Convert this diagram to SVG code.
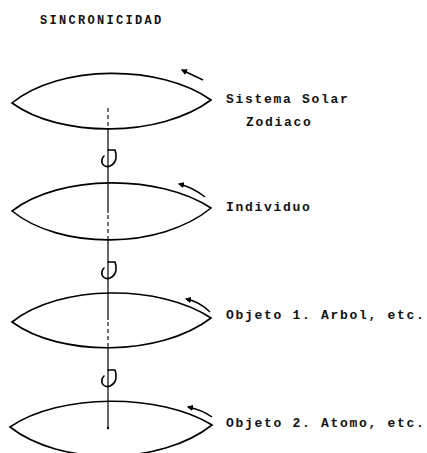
<svg xmlns="http://www.w3.org/2000/svg" width="427" height="453" viewBox="0 0 427 453">
<style>
.lens{fill:none;stroke:#000;stroke-width:1.6}
.ax{fill:none;stroke:#000;stroke-width:1.2}
.dash{fill:none;stroke:#000;stroke-width:1.1;stroke-dasharray:4 3}
.rot{fill:none;stroke:#000;stroke-width:1.4}
.curl{fill:none;stroke:#000;stroke-width:1.6;stroke-linecap:round}
text{font-family:"Liberation Mono","DejaVu Sans Mono",monospace;font-weight:bold;fill:#111}
.lbl{font-size:13px;letter-spacing:1.7px}
.ttl{font-size:12px;letter-spacing:2.3px}
</style>
<defs>
<marker id="ah" viewBox="0 0 10 10" refX="8" refY="5" markerWidth="4.5" markerHeight="4.5" orient="auto">
<path d="M10,5 L0,0 L0,10 Z" fill="#000"/>
</marker>
<path id="curl" class="curl" d="M108,-8 H115 C117,-3 117,5 110,8 C105,10 101,6 102,2 C102,0 103,-1 104,-2"/>
</defs>
<text class="ttl" x="40" y="24">SINCRONICIDAD</text>
<g id="connectors">
<path class="dash" d="M108,108 V127"/>
<path class="ax" d="M108,129 V213"/>
<path class="dash" d="M108,215 V239"/>
<path class="ax" d="M108,240 V320"/>
<path class="dash" d="M108,322 V347"/>
<path class="ax" d="M108,348 V428"/>
<circle cx="108" cy="428" r="1.2" fill="#000"/>
<use href="#curl" y="158"/>
<use href="#curl" y="270"/>
<use href="#curl" y="378"/>
</g>
<g id="n1">
<path class="lens" d="M12,103 C60,64 160,64 211,100 C160,138 60,138 12,103 Z"/>
<path class="rot" d="M203,80 L182,70" marker-end="url(#ah)"/>
<text class="lbl" x="226" y="103">Sistema Solar</text>
<text class="lbl" x="246" y="126">Zodiaco</text>
</g>
<g id="n2">
<path class="lens" d="M12,211 C60,174 160,174 211,208 C160,250 60,250 12,211 Z"/>
<path class="rot" d="M205,197 C196,190 188,186 179,184" marker-end="url(#ah)"/>
<text class="lbl" x="226" y="211">Individuo</text>
</g>
<g id="n3">
<path class="lens" d="M12,322 C60,284 160,284 211,318 C160,357 60,357 12,322 Z"/>
<path class="rot" d="M210,312 C203,305 196,301 186,299" marker-end="url(#ah)"/>
<text class="lbl" x="226" y="319">Objeto 1. Arbol, etc.</text>
</g>
<g id="n4">
<path class="lens" d="M10,427 C60,393 160,393 212,425 C160,466 60,466 10,427 Z"/>
<path class="rot" d="M212,417 C205,412 198,409 188,407" marker-end="url(#ah)"/>
<text class="lbl" x="226" y="427">Objeto 2. Atomo, etc.</text>
</g>
</svg>
